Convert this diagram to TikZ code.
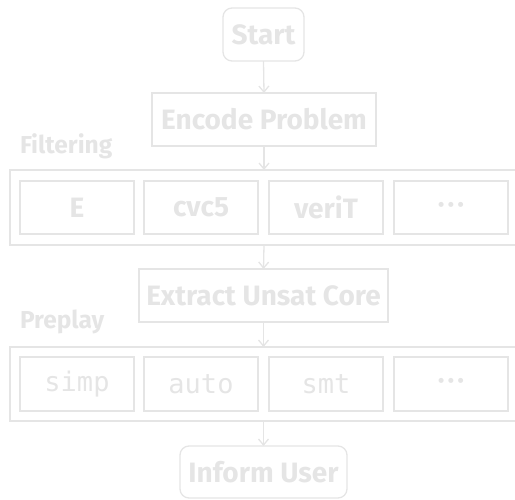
\documentclass[tikz,border=0pt]{standalone}
\usepackage{fontspec}
\setmainfont{Fira Sans}
\setmonofont{DejaVu Sans Mono}
\usetikzlibrary{arrows.meta}
\definecolor{pale}{RGB}{229,229,229}
\newcommand{\mydots}{\raisebox{-3pt}{·\kern3pt·\kern3pt·}}
\begin{document}
\begin{tikzpicture}[x=1pt,y=-1pt,
  every node/.style={inner sep=0pt,outer sep=0pt},
  box/.style={draw=pale,line width=1.3pt,text=pale,font=\fontsize{28}{30}\selectfont\bfseries},
  rbox/.style={box,rounded corners=9pt},
  mbox/.style={box,font=\fontsize{27}{30}\selectfont\ttfamily},
  frame/.style={draw=pale,line width=1.3pt},
  lbl/.style={text=pale,font=\fontsize{24.5}{26}\selectfont\bfseries,anchor=base west},
  arr/.style={draw=pale,line width=1.3pt,-{Straight Barb[length=6pt,width=10pt,line width=1.3pt]}}]
\clip (0,0) rectangle (515,499);
\node[rbox,minimum width=81pt,minimum height=53pt] (start) at (263.5,34.5) {Start};
\node[box,minimum width=224pt,minimum height=53pt] (enc) at (264,119.5) {Encode Problem};
\node[lbl] (flab) at (20,153) {Filtering};
\node[frame,minimum width=530pt,minimum height=75pt] (fout) at (275,207.5) {};
\node[box,minimum width=114pt,minimum height=53pt] (e) at (77,207.5) {E};
\node[box,minimum width=114pt,minimum height=53pt] (cvc) at (201,207.5) {cvc5};
\node[box,minimum width=114pt,minimum height=53pt] (verit) at (326,207.5) {veriT};
\node[box,minimum width=114pt,minimum height=53pt] (fdots) at (451,207.5) {\mydots};
\node[box,minimum width=249pt,minimum height=53pt] (ext) at (263.5,295.5) {Extract Unsat Core};
\node[lbl] (plab) at (20,328) {Preplay};
\node[frame,minimum width=530pt,minimum height=74pt] (pout) at (275,384) {};
\node[mbox,minimum width=114pt,minimum height=54pt] (simp) at (77,384) {simp};
\node[mbox,minimum width=114pt,minimum height=54pt] (auto) at (201,384) {auto};
\node[mbox,minimum width=114pt,minimum height=54pt] (smt) at (326,384) {smt};
\node[box,minimum width=114pt,minimum height=54pt] (pdots) at (451,384) {\mydots};
\node[rbox,minimum width=167pt,minimum height=52pt] (inf) at (263.5,472) {Inform User};
\draw[arr] (start.south) -- (enc.north);
\draw[arr] (enc.south) -- (enc.south |- fout.north);
\draw[arr] (enc.south |- fout.south) -- (ext.north);
\draw[arr] (ext.south) -- (ext.south |- pout.north);
\draw[arr] (ext.south |- pout.south) -- (inf.north);
\end{tikzpicture}
\end{document}
